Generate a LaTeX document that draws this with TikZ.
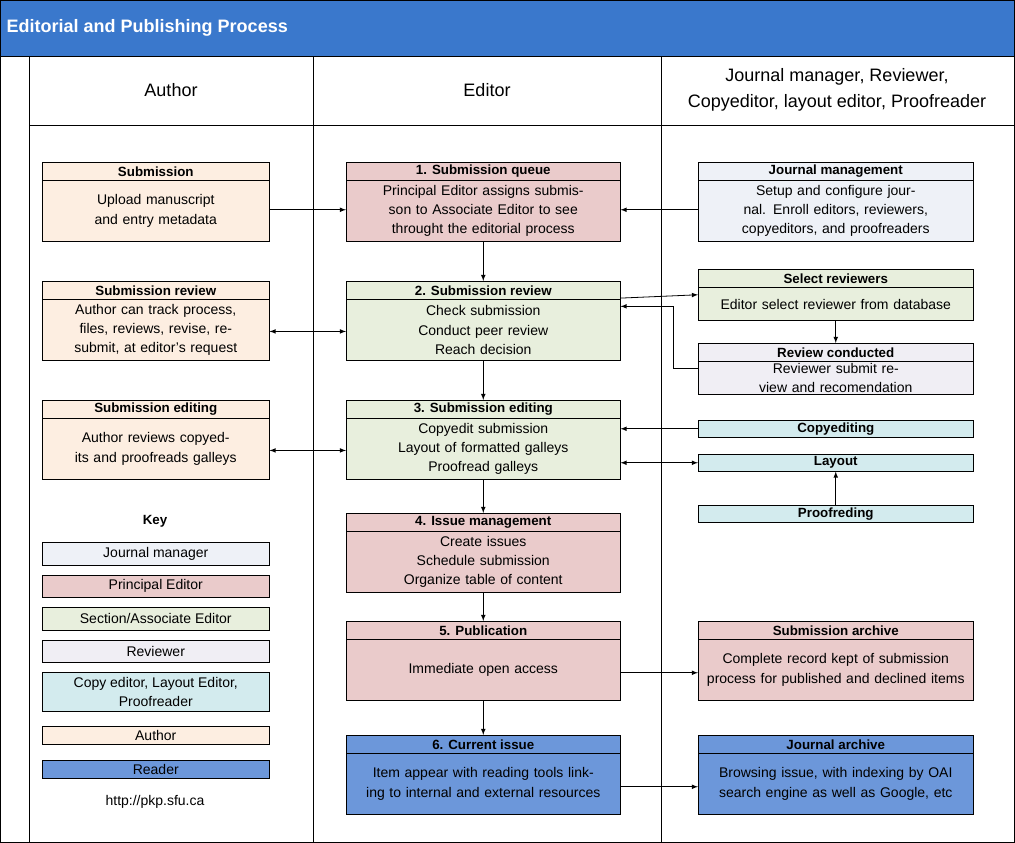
\documentclass[tikz,border=0pt]{standalone}
\usepackage{fontspec}
\setmainfont{Liberation Sans}
\usetikzlibrary{positioning,calc}
\definecolor{barblue}{HTML}{3A78CC}
\definecolor{jm}{HTML}{EEF1F7}
\definecolor{pe}{HTML}{EACBCB}
\definecolor{se}{HTML}{E8EFDD}
\definecolor{rv}{HTML}{F0EEF4}
\definecolor{ce}{HTML}{D3EBEE}
\definecolor{au}{HTML}{FDEEE1}
\definecolor{rd}{HTML}{6C97DA}
\tikzset{
  box/.style={rectangle,draw,fill=#1,inner sep=0pt,anchor=north west},
  head/.style={rectangle,draw,fill=#1,inner sep=0pt,anchor=north west,font=\bfseries},
  txt/.style={align=center,inner sep=1pt},
  marrow/.style={-latex,semithick},
  darrow/.style={latex-latex,semithick}
}
% name, x, y, width, height, fill, title, body
\newcommand{\pbox}[8]{%
  \node [box=#6,minimum width=#4*0.75pt,minimum height=#5*0.75pt] (#1) at (#2,#3) {};
  \node [head=#6,minimum width=#4*0.75pt,minimum height=18*0.75pt] (#1-h) at (#2,#3) {#7};
  \node [txt,text width=(#4-6)*0.75pt] (#1-t) at ($(#1-h.south)!0.5!(#1.south)$) {#8};
}
\begin{document}
\begin{tikzpicture}[x=0.75pt,y=-0.75pt,font=\fontsize{10.5}{14.5}\selectfont]
  \useasboundingbox (0,0) rectangle (1015,843);
  % frame and lanes
  \fill [barblue] (0,0) rectangle (1015,56);
  \node [anchor=west,text=white,font=\fontsize{13.5}{16}\selectfont\bfseries] (title) at (2,28) {Editorial and Publishing Process};
  \draw (0.5,0) rectangle (1014.5,842.5);
  \draw (0,56) -- (1015,56);
  \draw (29,56) -- (29,843);
  \draw (313,56) -- (313,843);
  \draw (661,56) -- (661,843);
  \draw (29,125) -- (1015,125);
  \node [font=\fontsize{13.5}{19}\selectfont] (lane-au) at (171,90) {Author};
  \node [font=\fontsize{13.5}{19}\selectfont] (lane-ed) at (487,90) {Editor};
  \node [font=\fontsize{13.5}{19}\selectfont,align=center] (lane-jm) at (837,90) {Journal manager, Reviewer,\\Copyeditor, layout editor, Proofreader};

  % author lane
  \pbox{sub}{42}{162}{227}{79}{au}{Submission}{Upload manuscript and entry metadata}
  \pbox{subrev}{42}{281}{227}{79}{au}{Submission review}{Author can track process, files, reviews, revise, resubmit, at editor's request}
  \pbox{subed}{42}{400}{227}{79}{au}{Submission editing}{Author reviews copyedits and proofreads galleys}

  % editor lane
  \pbox{q1}{346}{162}{274}{79}{pe}{1. Submission queue}{Principal Editor assigns submisson to Associate Editor to see throught the editorial process}
  \pbox{q2}{346}{281}{274}{79}{se}{2. Submission review}{Check submission\\Conduct peer review\\Reach decision}
  \pbox{q3}{346}{400}{274}{79}{se}{3. Submission editing}{Copyedit submission\\Layout of formatted galleys\\Proofread galleys}
  \pbox{q4}{346}{513}{274}{79}{pe}{4. Issue management}{Create issues\\Schedule submission\\Organize table of content}
  \pbox{q5}{346}{621}{274}{79}{pe}{5. Publication}{Immediate open access}
  \pbox{q6}{346}{735}{274}{79}{rd}{6. Current issue}{Item appear with reading tools linking to internal and external resources}

  % right lane
  \pbox{jman}{698}{162}{275}{79}{jm}{Journal management}{Setup and configure journal. Enroll editors, reviewers, copyeditors, and proofreaders}
  \pbox{selrev}{698}{269}{275}{51}{se}{Select reviewers}{Editor select reviewer from database}
  \pbox{revcon}{698}{343}{275}{51}{rv}{Review conducted}{Reviewer submit review and recomendation}
  \node [head=ce,minimum width=275*0.75pt,minimum height=17*0.75pt] (copyed) at (698,420) {Copyediting};
  \node [head=ce,minimum width=275*0.75pt,minimum height=17*0.75pt] (layout) at (698,454) {Layout};
  \node [head=ce,minimum width=275*0.75pt,minimum height=17*0.75pt] (proof) at (698,505) {Proofreding};
  \pbox{subarc}{698}{621}{275}{79}{pe}{Submission archive}{Complete record kept of submission process for published and declined items}
  \pbox{jarc}{698}{735}{275}{79}{rd}{Journal archive}{Browsing issue, with indexing by OAI search engine as well as Google, etc}

  % key
  \node [font=\bfseries] (key) at (155,521) {Key};
  \node [box=jm,minimum width=227*0.75pt,minimum height=23*0.75pt] (k1) at (42,542) {Journal manager};
  \node [box=pe,minimum width=227*0.75pt,minimum height=22*0.75pt] (k2) at (42,575) {Principal Editor};
  \node [box=se,minimum width=227*0.75pt,minimum height=23*0.75pt] (k3) at (42,607) {Section/Associate Editor};
  \node [box=rv,minimum width=227*0.75pt,minimum height=22*0.75pt] (k4) at (42,640) {Reviewer};
  \node [box=ce,minimum width=227*0.75pt,minimum height=39*0.75pt,align=center] (k5) at (42,672) {Copy editor, Layout Editor,\\Proofreader};
  \node [box=au,minimum width=227*0.75pt,minimum height=18*0.75pt] (k6) at (42,726) {Author};
  \node [box=rd,minimum width=227*0.75pt,minimum height=18*0.75pt] (k7) at (42,760) {Reader};
  \node (url) at (155,802) {http://pkp.sfu.ca};

  % horizontal arrows
  \draw [marrow] ([yshift=-6]sub.east) to ([yshift=-6]q1.west);
  \draw [marrow] ([yshift=-6]jman.east -| jman.west) to ([yshift=-6]q1.east);
  \draw [darrow] ([yshift=-8]subrev.east) to ([yshift=-8]q2.west);
  \draw [marrow] ([yshift=17]q2.east) to (selrev.west);
  \draw [marrow] (revcon.west) -- ++(-25,0) |- ([yshift=-19]q2.north east);
  \draw [darrow] ([yshift=-8]subed.east) to ([yshift=-8]q3.west);
  \draw [marrow] (copyed.west) to (copyed.west -| q3.east);
  \draw [darrow] (layout.west -| q3.east) to (layout.west);
  \draw [marrow] ([yshift=-9]q5.east) to ([yshift=-9]subarc.west);
  \draw [marrow] ([yshift=-9]q6.east) to ([yshift=-9]jarc.west);

  % vertical arrows
  \draw [marrow] (q1.south) to (q2-h.north);
  \draw [marrow] (q2.south) to (q3-h.north);
  \draw [marrow] (q3.south) to (q4-h.north);
  \draw [marrow] (q4.south) to (q5-h.north);
  \draw [marrow] (q5.south) to (q6-h.north);
  \draw [marrow] (selrev.south) to (revcon-h.north);
  \draw [marrow] (proof.north) to (layout.south);
\end{tikzpicture}
\end{document}
